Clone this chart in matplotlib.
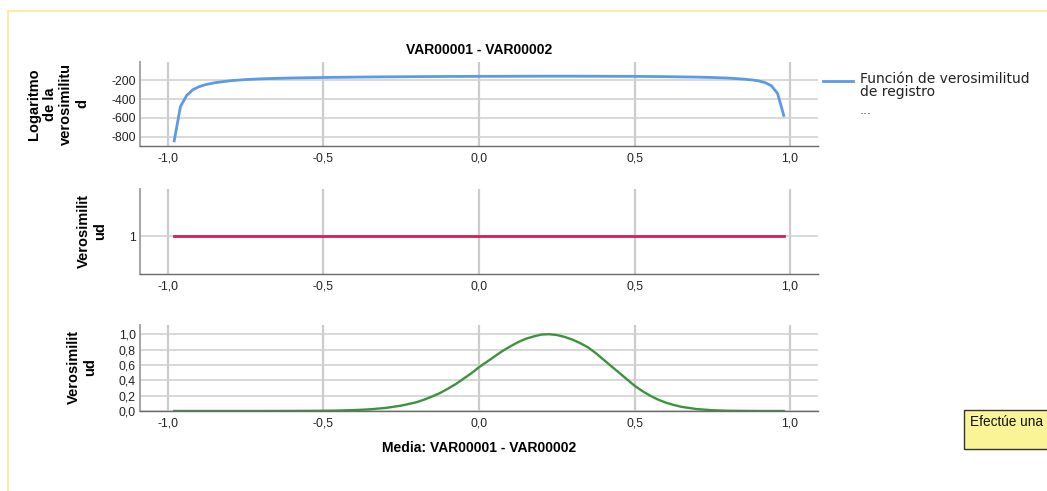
"""
SPSS-style Bayesian likelihood panels for VAR00001 - VAR00002
"""

import matplotlib
matplotlib.use("Agg")
import matplotlib.pyplot as plt
from matplotlib.lines import Line2D
from matplotlib.patches import Rectangle

# ── DATA ──────────────────────────────────────────────────────────────────────

loglik_x = [-0.98, -0.96, -0.94, -0.92, -0.90, -0.88, -0.85, -0.80, -0.75, -0.70,
            -0.60, -0.50, -0.40, -0.30, -0.20, -0.10, 0.00, 0.10, 0.20, 0.30,
            0.40, 0.50, 0.60, 0.70, 0.75, 0.80, 0.85, 0.88, 0.90, 0.92,
            0.94, 0.96, 0.98]
loglik_y = [-845, -480, -362, -300, -268, -247, -226, -205, -192, -184,
            -175, -170, -166, -163, -161, -159, -158, -157, -156, -156,
            -157, -158, -161, -166, -170, -176, -187, -197, -207, -225,
            -258, -340, -575]

prior_x = [-0.98, 0.98]
prior_y = [1, 1]

lik_x = [-0.98, -0.90, -0.80, -0.70, -0.60, -0.50, -0.45, -0.40, -0.35, -0.30,
         -0.25, -0.20, -0.175, -0.15, -0.125, -0.10, -0.075, -0.05, -0.025, 0.00,
         0.025, 0.05, 0.075, 0.10, 0.125, 0.15, 0.175, 0.20, 0.225, 0.25,
         0.275, 0.30, 0.325, 0.35, 0.375, 0.40, 0.425, 0.45, 0.475, 0.50,
         0.525, 0.55, 0.575, 0.60, 0.625, 0.65, 0.70, 0.75, 0.80, 0.90, 0.98]
lik_y = [0.0, 0.0, 0.0, 0.0, 0.001, 0.003, 0.006, 0.012, 0.022, 0.04,
         0.07, 0.115, 0.15, 0.19, 0.235, 0.29, 0.35, 0.42, 0.49, 0.57,
         0.64, 0.71, 0.78, 0.84, 0.895, 0.94, 0.97, 0.995, 1.0, 0.99,
         0.965, 0.93, 0.885, 0.83, 0.755, 0.67, 0.585, 0.50, 0.415, 0.33,
         0.26, 0.20, 0.15, 0.11, 0.08, 0.055, 0.025, 0.01, 0.003, 0.0, 0.0]

x_ticks = [-1.0, -0.5, 0.0, 0.5, 1.0]
top_yticks = [-200, -400, -600, -800]
mid_yticks = [1]
bot_yticks = [0.0, 0.2, 0.4, 0.6, 0.8, 1.0]

title = "VAR00001 - VAR00002"
xlabel = "Media: VAR00001 - VAR00002"
ylabels = ["Logaritmo\nde la\nverosimilitu\nd", "Verosimilit\nud", "Verosimilit\nud"]
legend_label = "Función de verosimilitud\nde registro"

# ── STYLE ─────────────────────────────────────────────────────────────────────

BLUE = "#5b9ae6"
RED = "#d81f4f"
GREEN = "#3b933b"
plt.rcParams["font.family"] = ["Liberation Sans", "DejaVu Sans"]


def comma(v, fmt="{:.1f}"):
    return fmt.format(v).replace(".", ",")


def style_axes(ax, yticks, ylabels_txt):
    ax.set_xlim(-1.09, 1.09)
    ax.set_xticks(x_ticks)
    ax.set_xticklabels([comma(v) for v in x_ticks])
    ax.set_yticks(yticks)
    ax.set_yticklabels(ylabels_txt)
    ax.tick_params(length=0, labelsize=8.8, colors="#222222")
    ax.tick_params(axis="x", pad=5)
    ax.tick_params(axis="y", pad=3)
    for side in ("top", "right"):
        ax.spines[side].set_visible(False)
    ax.spines["left"].set_color("#a8a8a8")
    ax.spines["left"].set_linewidth(1.5)
    ax.spines["bottom"].set_color("#6a6a6a")
    ax.spines["bottom"].set_linewidth(1.0)
    ax.grid(axis="x", color="#cccccc", linewidth=1.6)
    ax.grid(axis="y", color="#d2d2d2", linewidth=1.2)
    ax.set_axisbelow(True)


# ── PLOT ──────────────────────────────────────────────────────────────────────

W, H = 1047, 491
fig = plt.figure(figsize=(W / 100, H / 100), dpi=100)


def px_axes(left, top, right, bottom):
    return fig.add_axes([left / W, 1 - bottom / H, (right - left) / W, (bottom - top) / H])


ax1 = px_axes(140, 62, 818, 146)
ax2 = px_axes(140, 189, 818, 274)
ax3 = px_axes(140, 325, 818, 411)

ax1.plot(loglik_x, loglik_y, color=BLUE, linewidth=2)
ax1.set_ylim(-900, -5)
style_axes(ax1, top_yticks, [str(v) for v in top_yticks])

ax2.plot(prior_x, prior_y, color=RED, linewidth=2)
ax2.set_ylim(0.6, 1.5)
style_axes(ax2, mid_yticks, [str(v) for v in mid_yticks])

ax3.plot(lik_x, lik_y, color=GREEN, linewidth=1.7)
ax3.set_ylim(0, 1.12)
style_axes(ax3, bot_yticks, [comma(v) for v in bot_yticks])

# titles and axis labels
fig.text(479 / W, 1 - 50 / H, title, ha="center", va="center",
         fontsize=10, fontweight="bold")
fig.text(479 / W, 1 - 448 / H, xlabel, ha="center", va="center",
         fontsize=10, fontweight="bold")
for (xc, yc), lab in zip([(58, 104), (92, 231), (82, 367)], ylabels):
    fig.text(xc / W, 1 - yc / H, lab, ha="center", va="center", rotation=90,
             fontsize=10.5, fontweight="bold",
             linespacing=1.2, multialignment="center")

# legend
fig.add_artist(Line2D([823 / W, 853 / W], [1 - 81 / H, 1 - 81 / H],
                      color=BLUE, linewidth=2))
fig.text(860 / W, 1 - 72 / H, legend_label, ha="left", va="top",
         fontsize=10, linespacing=0.95, color="#222222", family="DejaVu Sans")
fig.text(860 / W, 1 - 111 / H, "...", ha="left", va="center",
         fontsize=9, color="#444444", family="DejaVu Sans")

# yellow frame of the viewer
fig.add_artist(Line2D([8 / W, 1], [1 - 11 / H, 1 - 11 / H], color="#fce89a", linewidth=1.2))
fig.add_artist(Line2D([8 / W, 8 / W], [0, 1 - 11 / H], color="#fce89a", linewidth=1.2))

# tooltip box at the right edge
fig.add_artist(Rectangle((964 / W, 1 - 449 / H), 90 / W, 39 / H,
                         facecolor="#faf496", edgecolor="#333333", linewidth=1))
fig.text(970 / W, 1 - 422 / H, "Efectúe una", ha="left", va="center",
         fontsize=9.8, color="#111111")

fig.savefig("out.png", dpi=100)
